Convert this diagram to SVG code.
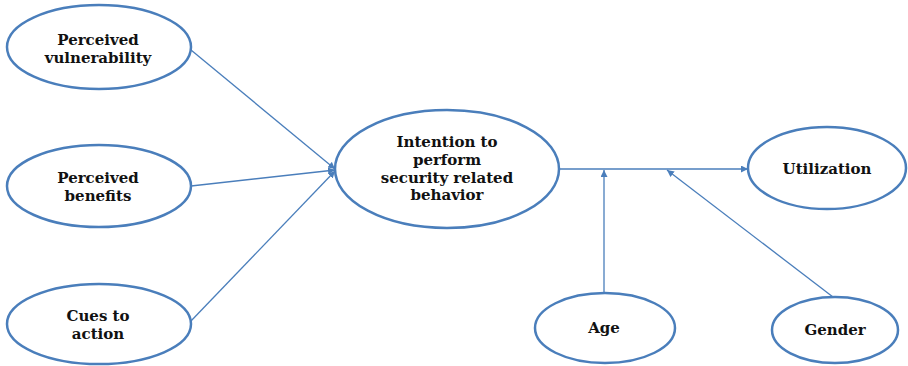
<svg xmlns="http://www.w3.org/2000/svg" width="908" height="366" viewBox="0 0 908 366">
<style>
.n{fill:#fff;stroke:#4a7ebb;stroke-width:2.5}
.t{font-family:"DejaVu Serif","Liberation Serif",serif;font-weight:bold;font-size:15px;fill:#111;text-anchor:middle}
.c{stroke:#4a7ebb;stroke-width:1.3;fill:none}
</style>
<defs>
<marker id="a" viewBox="0 0 10 10" refX="10" refY="5" markerWidth="7" markerHeight="7" markerUnits="userSpaceOnUse" orient="auto">
<path d="M0,0L10,5L0,10z" fill="#4a7ebb"/>
</marker>
</defs>
<rect width="908" height="366" fill="#fff"/>
<g id="connectors">
<line class="c" x1="191" y1="50" x2="335" y2="169" marker-end="url(#a)"/>
<line class="c" x1="191" y1="186" x2="335" y2="170" marker-end="url(#a)"/>
<line class="c" x1="190" y1="322" x2="335" y2="171" marker-end="url(#a)"/>
<line class="c" x1="559" y1="169" x2="748" y2="169" marker-end="url(#a)"/>
<line class="c" x1="604" y1="293" x2="604" y2="170" marker-end="url(#a)"/>
<line class="c" x1="833" y1="297" x2="667" y2="170" marker-end="url(#a)"/>
</g>
<g id="vulnerability"><ellipse class="n" cx="99" cy="47" rx="92" ry="42"/><text class="t" x="98" y="45">Perceived</text><text class="t" x="98" y="63">vulnerability</text></g>
<g id="benefits"><ellipse class="n" cx="99" cy="186" rx="92" ry="41"/><text class="t" x="98" y="183">Perceived</text><text class="t" x="98" y="201">benefits</text></g>
<g id="cues"><ellipse class="n" cx="99" cy="324" rx="92" ry="40"/><text class="t" x="98" y="321">Cues to</text><text class="t" x="98" y="339">action</text></g>
<g id="intention"><ellipse class="n" cx="447" cy="169" rx="112" ry="59"/><text class="t" x="447" y="147">Intention to</text><text class="t" x="447" y="165">perform</text><text class="t" x="447" y="183">security related</text><text class="t" x="447" y="200">behavior</text></g>
<g id="utilization"><ellipse class="n" cx="827" cy="168" rx="79" ry="41"/><text class="t" x="827" y="174">Utilization</text></g>
<g id="age"><ellipse class="n" cx="605" cy="328" rx="70" ry="35"/><text class="t" x="604" y="333">Age</text></g>
<g id="gender"><ellipse class="n" cx="835" cy="330" rx="63" ry="33"/><text class="t" x="835" y="335">Gender</text></g>
</svg>
